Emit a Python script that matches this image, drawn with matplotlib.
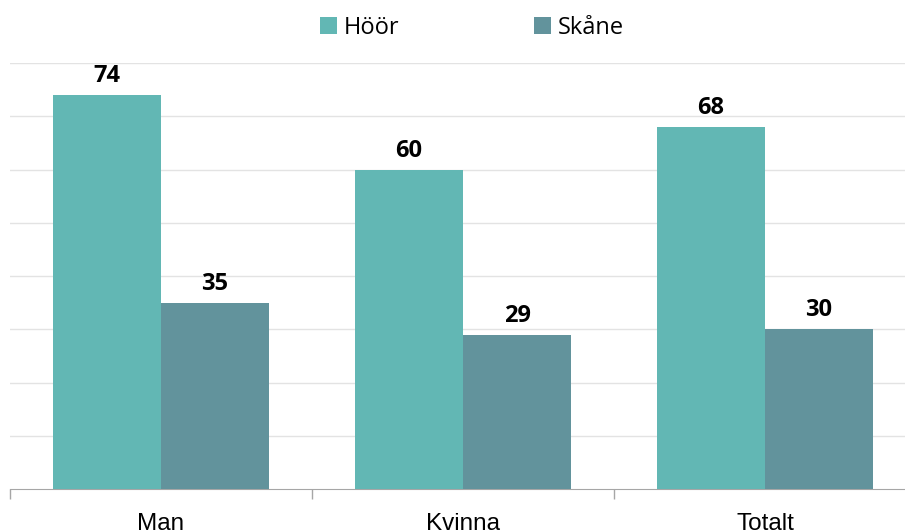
import numpy as np
import matplotlib.pyplot as plt

categories = ["Man", "Kvinna", "Totalt"]
hoor = [74, 60, 68]
skane = [35, 29, 30]
series_names = ["Höör", "Skåne"]
colors = ["#62B7B4", "#62939C"]

fig = plt.figure(figsize=(9.05, 5.32), dpi=100)
ax = fig.add_axes([10 / 905, 43 / 532, 906 / 905, 426 / 532])

x = np.arange(len(categories))
w = 0.358
b1 = ax.bar(x - w / 2, hoor, w, color=colors[0], label=series_names[0], zorder=3)
b2 = ax.bar(x + w / 2, skane, w, color=colors[1], label=series_names[1], zorder=3)

# value labels above bars
for bars in (b1, b2):
    for r in bars:
        ax.annotate(f"{int(r.get_height())}", (r.get_x() + r.get_width() / 2, r.get_height()),
                    xytext=(0, 5), textcoords="offset points", ha="center", va="bottom",
                    fontsize=17, fontweight="bold", family="Open Sans", color="black")

ax.set_ylim(0, 80)
ax.set_xlim(-0.5, 2.5)
ax.set_yticks(np.arange(10, 81, 10))
ax.yaxis.grid(True, color="#E3E3E3", linewidth=1, zorder=0)
ax.tick_params(axis="y", left=False, labelleft=False)

ax.set_xticks(np.arange(len(categories) + 1) - 0.5)
ax.set_xticklabels([])
ax.set_xticks(x, minor=True)
ax.set_xticklabels(categories, minor=True, fontsize=17.5, family="Liberation Sans")
ax.tick_params(axis="x", which="major", length=7, color="#A6A6A6", width=1)
ax.tick_params(axis="x", which="minor", length=0, pad=17)

for s in ["top", "right", "left"]:
    ax.spines[s].set_visible(False)
ax.spines["bottom"].set_color("#A6A6A6")

leg = fig.legend(handles=[b1, b2], loc="center", bbox_to_anchor=(472 / 905, 1 - 28 / 532),
                 ncol=2, frameon=False, prop={"family": "Open Sans", "size": 17},
                 handlelength=0.7, handleheight=0.7, handletextpad=0.3, columnspacing=5.7)

fig.savefig("out.png", dpi=100)
